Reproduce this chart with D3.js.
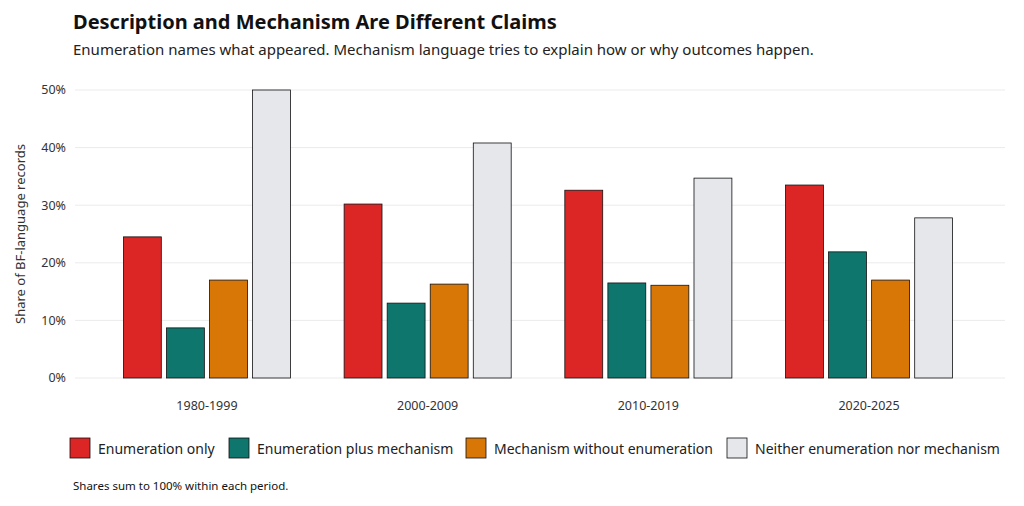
<!DOCTYPE html>
<html><head><meta charset="utf-8">
<script src="https://cdn.jsdelivr.net/npm/d3@7"></script>
<style>body{margin:0;background:#fff;font-family:"Noto Sans","Open Sans",sans-serif}</style>
</head><body><svg id="c" width="1024" height="506"></svg>
<script>
const periods=["1980-1999","2000-2009","2010-2019","2020-2025"];
const seriesNames=["Enumeration only","Enumeration plus mechanism","Mechanism without enumeration","Neither enumeration nor mechanism"];
const colors=["#dc2626","#0f766e","#d97706","#e5e7eb"];
const enumOnly=[24.5,30.2,32.6,33.5];
const enumMech=[8.7,13.0,16.5,21.9];
const mechOnly=[17.0,16.3,16.1,17.0];
const neither=[50.0,40.8,34.7,27.8];
const yTicks=[0,10,20,30,40,50];
const values=[enumOnly,enumMech,mechOnly,neither];

const svg=d3.select("#c");
const y=d3.scaleLinear().domain([0,50]).range([378,90]);
const x0=d3.scaleBand().domain(periods).range([96.6,979.4]).paddingInner(0.243).paddingOuter(0.1215);
const x1=d3.scaleBand().domain(d3.range(4)).range([0,x0.bandwidth()]).paddingInner(0.12);

svg.append("g").selectAll("line").data(yTicks).join("line")
 .attr("x1",75).attr("x2",1005).attr("y1",d=>y(d)).attr("y2",d=>y(d))
 .attr("stroke","#ebebeb").attr("stroke-width",1);
svg.append("g").selectAll("text").data(yTicks).join("text")
 .attr("x",66).attr("y",d=>y(d)).attr("dy","0.35em").attr("text-anchor","end")
 .attr("font-size",12.5).attr("fill","#333").text(d=>d+"%");

periods.forEach((p,i)=>{
 const g=svg.append("g").attr("transform",`translate(${x0(p)},0)`);
 values.forEach((arr,s)=>{
  g.append("rect").attr("x",x1(s)).attr("width",x1.bandwidth())
   .attr("y",y(arr[i])).attr("height",y(0)-y(arr[i]))
   .attr("fill",colors[s]).attr("stroke","#111").attr("stroke-width",0.8);
 });
 svg.append("text").attr("x",x0(p)+x0.bandwidth()/2).attr("y",410)
  .attr("text-anchor","middle").attr("font-size",12.5).attr("fill","#333").text(p);
});

svg.append("text").attr("transform","translate(25,234) rotate(-90)").attr("text-anchor","middle")
 .attr("font-size",13).attr("fill","#333").text("Share of BF-language records");
svg.append("text").attr("x",73).attr("y",29).attr("font-size",20).attr("font-weight","bold").attr("fill","#111")
 .text("Description and Mechanism Are Different Claims");
svg.append("text").attr("x",73).attr("y",55).attr("font-size",15).attr("fill","#222")
 .text("Enumeration names what appeared. Mechanism language tries to explain how or why outcomes happen.");

const legX=[70,229,466,727];
seriesNames.forEach((n,i)=>{
 svg.append("rect").attr("x",legX[i]).attr("y",438).attr("width",20).attr("height",20)
  .attr("fill",colors[i]).attr("stroke","#111").attr("stroke-width",0.8);
 svg.append("text").attr("x",legX[i]+28).attr("y",449).attr("dy","0.35em")
  .attr("font-size",14).attr("fill","#222").text(n);
});
svg.append("text").attr("x",73).attr("y",490).attr("font-size",11.5).attr("fill","#111")
 .text("Shares sum to 100% within each period.");
</script></body></html>
